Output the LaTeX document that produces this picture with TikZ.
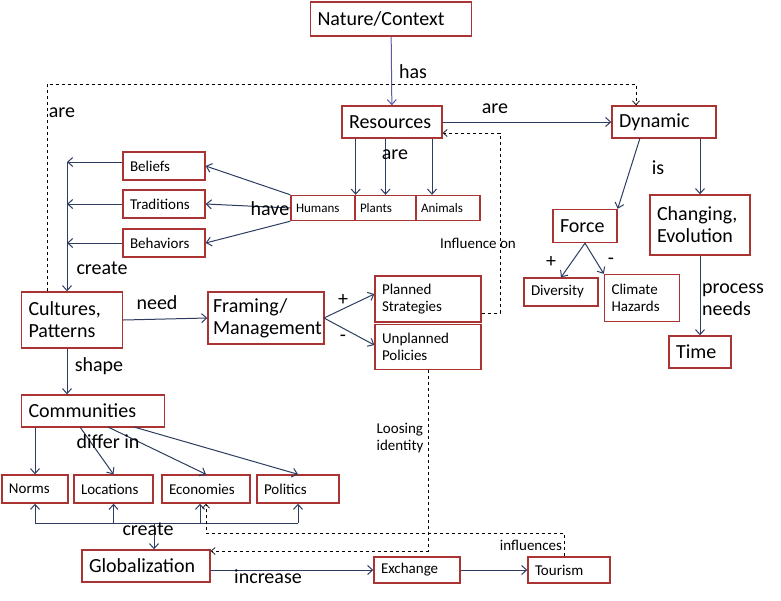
\documentclass[tikz,border=0pt]{standalone}
\usepackage{fontspec}
\setmainfont{Carlito}
\usetikzlibrary{arrows.meta}
\definecolor{bd}{RGB}{170,52,52}
\definecolor{ac}{RGB}{45,60,95}
\begin{document}
\begin{tikzpicture}[x=1pt,y=-1pt,
 box/.style={draw=bd, line width=1.4pt, fill=white, inner xsep=7pt, inner ysep=0pt, font=\fontsize{20}{22}\selectfont, align=left},
 sbox/.style={box, font=\fontsize{15}{17}\selectfont},
 tbox/.style={box, inner xsep=5pt, font=\fontsize{13}{15}\selectfont},
 ar/.style={draw=ac, line width=1pt, -{Straight Barb[length=5pt,width=9pt]}},
 ln/.style={draw=ac, line width=1pt},
 da/.style={draw=black, dashed, line width=0.7pt, -{Straight Barb[length=4pt,width=7pt]}},
 lb/.style={font=\fontsize{20}{22}\selectfont, inner sep=0pt, align=left},
 sl/.style={font=\fontsize{15}{17}\selectfont, inner sep=0pt, align=left}]
\useasboundingbox (0,0) rectangle (781,600);
\node[box, text width=147, minimum height=34] (nat) at (391,19) {Nature/Context};
\node[box, text width=86, minimum height=32] (res) at (392,122) {Resources};
\node[box, text width=90, minimum height=32] (dyn) at (664,122) {Dynamic};
\node[sbox, text width=68, minimum height=28] (bel) at (164,166) {Beliefs};
\node[sbox, text width=68, minimum height=28] (tra) at (164,204) {Traditions};
\node[sbox, text width=68, minimum height=28] (beh) at (164,243) {Behaviors};
\node[tbox, text width=54, minimum height=25] (hum) at (323,208) {Humans};
\node[tbox, text width=51, minimum height=25] (pla) at (385.5,208) {Plants};
\node[tbox, text width=54, minimum height=25] (ani) at (448,208) {Animals};
\node[box, text width=50, minimum height=33] (for) at (585,226) {Force};
\node[box, text width=86, minimum height=60] (cha) at (700,225) {Changing,\\Evolution};
\node[sbox, text width=60, minimum height=28] (div) at (561,292) {Diversity};
\node[sbox, text width=61, minimum height=47] (cli) at (642,298) {Climate\\Hazards};
\node[box, text width=48, minimum height=32] (tim) at (700,352) {Time};
\node[box, text width=87, minimum height=56] (cul) at (72,320) {Cultures,\\Patterns};
\node[box, inner xsep=5pt, text width=106, minimum height=52] (fra) at (266,318) {Framing/\\Management};
\node[sbox, text width=92, minimum height=46] (pls) at (428,299) {Planned\\Strategies};
\node[sbox, text width=92, minimum height=45] (unp) at (428,347) {Unplanned\\Policies};
\node[box, text width=129, minimum height=32] (com) at (93,411) {Communities};
\node[sbox, text width=52, minimum height=28] (nor) at (35,489) {Norms};
\node[sbox, text width=65, minimum height=28] (loc) at (113.5,489) {Locations};
\node[sbox, text width=74, minimum height=28] (eco) at (206,489) {Economies};
\node[sbox, text width=68, minimum height=28] (pol) at (298,489) {Politics};
\node[box, text width=114, minimum height=32] (glo) at (146,566) {Globalization};
\node[sbox, text width=72, minimum height=26] (exc) at (417,570) {Exchange};
\node[sbox, text width=68, minimum height=26] (tou) at (569,570) {Tourism};
% connectors
\draw[ar, draw=blue!30!gray] (nat) -- (res);
\node[lb] at (413,72) {has};
\coordinate (c1) at (47,84); \coordinate (c2) at (636,84);
\draw[da] (cul.north -| c1) -- (c1) -- (c2) -- (dyn.north -| c2);
\node[lb] at (62,113) {are};
\draw[ar] (res) -- (dyn); \node[lb] at (495,109) {are};
\draw[ar] (res.south -| hum.east) -- (hum.north east);
\draw[ar] (res.south -| pla) -- (pla.north);
\coordinate (ra) at (432,0);
\draw[ar] (res.south -| ra) -- (ani.north -| ra);
\node[lb] at (395,155) {are};
\draw[ar] (hum.north west) -- (bel.east);
\draw[ar] (hum.west) -- (tra.east);
\draw[ar] (hum.south west) -- (beh.east);
\node[lb] at (270,209) {have};
\coordinate (bus) at (67,162);
\draw[ar] (bel.west |- bus) -- (bus);
\draw[ar] (tra.west) -- (tra.west -| bus);
\draw[ar] (beh.west) -- (beh.west -| bus);
\draw[ar] (bus) -- (bus |- cul.north);
\node[lb] at (102,268) {create};
\draw[ar] (cul.east) -- (fra.west); \node[lb] at (157,303) {need};
\coordinate (fr) at (324,318);
\draw[ar] (fr) -- (pls.west |- 0,294); \node[lb] at (343,300) {+};
\draw[ar] (fr) -- (unp.west |- 0,345); \node[lb] at (343,338) {-};
\coordinate (p1) at (500,313); \coordinate (p2) at (500,133);
\draw[da] (pls.east |- p1) -- (p1) -- (p2) -- (res.east |- p2);
\node[sl] at (478,243) {Influence on};
\coordinate (u1) at (428,551);
\draw[da] (unp.south) -- (u1) -- (glo.east |- u1);
\node[sl] at (400,438) {Loosing\\identity};
\coordinate (ds) at (640,138);
\draw[ar] (ds) -- (for.north east);
\node[lb] at (658,168) {is};
\draw[ar] (dyn.south -| cha) -- (cha.north);
\draw[ar] (for.south) -- (div.north); \node[lb] at (551,262) {+};
\draw[ar] (for.south) -- (cli.north west); \node[lb] at (611,261) {-};
\draw[ar] (cha) -- (tim); \node[lb] at (733,300) {process\\needs};
\draw[ar] (cul.south -| bus) -- (com.north -| bus);
\node[lb] at (99,366) {shape};
\draw[ar] (com.south -| nor) -- (nor.north);
\draw[ar] (80,427) -- (loc.north);
\draw[ar] (108,427) -- (eco.north);
\draw[ar] (134,427) -- (pol.north);
\node[lb] at (108,442) {differ in};
\coordinate (b1) at (35,523); \coordinate (b2) at (298,523);
\draw[ln] (b1) -- (b2);
\draw[ar] (b1) -- (nor.south);
\draw[ar] (b1 -| loc) -- (loc.south);
\draw[ar] (b1 -| 200,0) -- (eco.south -| 200,0);
\draw[ar] (b2) -- (pol.south);
\draw[ar] (b1 -| 154,0) -- (glo.north -| 154,0);
\node[lb] at (148,529) {create};
\coordinate (t1) at (564,533); \coordinate (t2) at (206,533);
\draw[da] (tou.north -| t1) -- (t1) -- (t2) -- (eco.south -| t2);
\node[sl] at (531,545) {influences};
\draw[ar] (glo.east |- exc) -- (exc.west); \node[lb] at (268,577) {increase};
\draw[ar] (exc) -- (tou);
\end{tikzpicture}
\end{document}
